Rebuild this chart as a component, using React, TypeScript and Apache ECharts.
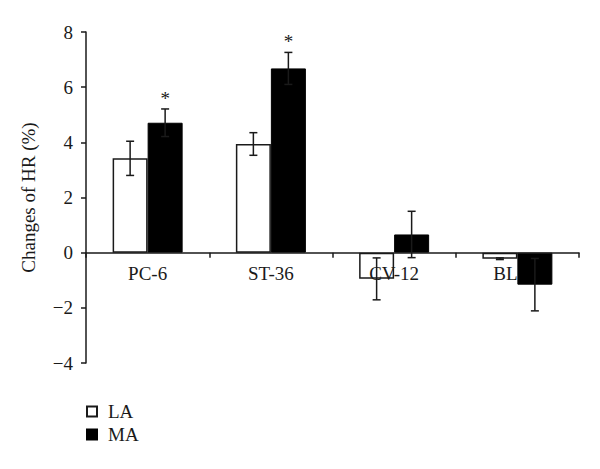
import React, { useEffect, useRef } from "react";
import * as echarts from "echarts";

const categories = ["PC-6", "ST-36", "CV-12", "BL"];
const laValues = [3.42, 3.94, -0.95, -0.22];
const laErrors = [0.62, 0.41, 0.76, 0.03];
const maValues = [4.71, 6.68, 0.66, -1.16];
const maErrors = [0.5, 0.58, 0.84, 0.95];
const maSignificant = [true, true, false, false];
const seriesNames = ["LA", "MA"];
const yTicks = { min: -4, max: 8, interval: 2 };

const FONT = "Liberation Serif";
const BAR_FRAC = 0.284;
const INK = "#1a1a1a";

export default function App() {
  const ref = useRef<HTMLDivElement>(null);
  useEffect(() => {
    if (!ref.current) return;
    document.body.style.margin = "0";
    const chart = echarts.init(ref.current, null, { renderer: "svg" });

    const errData: any[] = [];
    categories.forEach((_, i) => {
      errData.push([i, laValues[i], laErrors[i], -1, 0]);
      errData.push([i, maValues[i], maErrors[i], 1, maSignificant[i] ? 1 : 0]);
    });

    const renderErr = (params: any, api: any) => {
      const idx = api.value(0);
      const v = api.value(1);
      const e = api.value(2);
      const side = api.value(3);
      const sig = api.value(4);
      const catW = api.size([1, 0])[0];
      const bw = catW * BAR_FRAC;
      const c = api.coord([idx, v]);
      const x = c[0] + (side * bw) / 2;
      const top = api.coord([idx, v + e])[1];
      const bot = api.coord([idx, v - e])[1];
      const cap = 4;
      const st = { stroke: INK, lineWidth: 1.5 };
      const children: any[] = [
        { type: "line", shape: { x1: x, y1: top, x2: x, y2: bot }, style: st },
        { type: "line", shape: { x1: x - cap, y1: top, x2: x + cap, y2: top }, style: st },
        { type: "line", shape: { x1: x - cap, y1: bot, x2: x + cap, y2: bot }, style: st },
      ];
      if (sig) {
        children.push({
          type: "text",
          style: {
            text: "*",
            x: x,
            y: top - 1,
            textAlign: "center",
            textVerticalAlign: "bottom",
            fontFamily: FONT,
            fontSize: 19,
            fill: INK,
          },
        });
      }
      return { type: "group", children };
    };

    const labelData = categories.map((c, i) => [i, 0, i === 3 ? -12 : 0]);
    const renderLabel = (params: any, api: any) => {
      const idx = api.value(0);
      const dx = api.value(2);
      const p = api.coord([idx, 0]);
      return {
        type: "text",
        style: {
          text: categories[idx],
          x: p[0] + dx,
          y: p[1] + 11,
          textAlign: "center",
          textVerticalAlign: "top",
          fontFamily: FONT,
          fontSize: 19,
          fill: INK,
        },
      };
    };

    chart.setOption({
      animation: false,
      backgroundColor: "#ffffff",
      grid: { left: 86, right: 21, top: 32, bottom: 106 },
      legend: {
        orient: "vertical",
        left: 81,
        top: 397,
        itemWidth: 10,
        itemHeight: 10,
        itemGap: 4,
        icon: "rect",
        data: seriesNames,
        textStyle: { fontFamily: FONT, fontSize: 19, color: INK, padding: [0, 0, 0, 6] },
      },
      xAxis: {
        type: "category",
        data: categories,
        axisLine: { show: true, onZero: true, lineStyle: { color: INK, width: 1.5 } },
        axisTick: { show: true, length: 5, lineStyle: { color: INK, width: 1.5 } },
        axisLabel: { show: false },
        splitLine: { show: false },
        z: 3,
      },
      yAxis: {
        type: "value",
        min: yTicks.min,
        max: yTicks.max,
        interval: yTicks.interval,
        name: "Changes of HR (%)",
        nameLocation: "middle",
        nameGap: 48,
        nameTextStyle: { fontFamily: FONT, fontSize: 19, color: INK },
        axisLine: { show: true, lineStyle: { color: INK, width: 1.5 } },
        axisTick: { show: true, length: 5, lineStyle: { color: INK, width: 1.5 } },
        axisLabel: {
          fontFamily: FONT,
          fontSize: 19,
          color: INK,
          margin: 13,
          formatter: (v: number) => (v < 0 ? "\u2212" + Math.abs(v) : String(v)),
        },
        splitLine: { show: false },
      },
      series: [
        {
          name: "labels",
          type: "custom",
          renderItem: renderLabel,
          data: labelData,
          z: 1,
          silent: true,
        },
        {
          name: "LA",
          type: "bar",
          data: laValues,
          barWidth: BAR_FRAC * 100 + "%",
          barGap: "0%",
          z: 2,
          itemStyle: { color: "rgba(255,255,255,0)", borderColor: INK, borderWidth: 1.5 },
        },
        {
          name: "MA",
          type: "bar",
          data: maValues,
          barWidth: BAR_FRAC * 100 + "%",
          barGap: "0%",
          z: 2,
          itemStyle: { color: "#000000", borderColor: "#000000", borderWidth: 1 },
        },
        {
          name: "err",
          type: "custom",
          renderItem: renderErr,
          data: errData,
          z: 5,
          silent: true,
        },
      ],
    });
    return () => chart.dispose();
  }, []);
  return <div ref={ref} style={{ width: 600, height: 469 }} />;
}
